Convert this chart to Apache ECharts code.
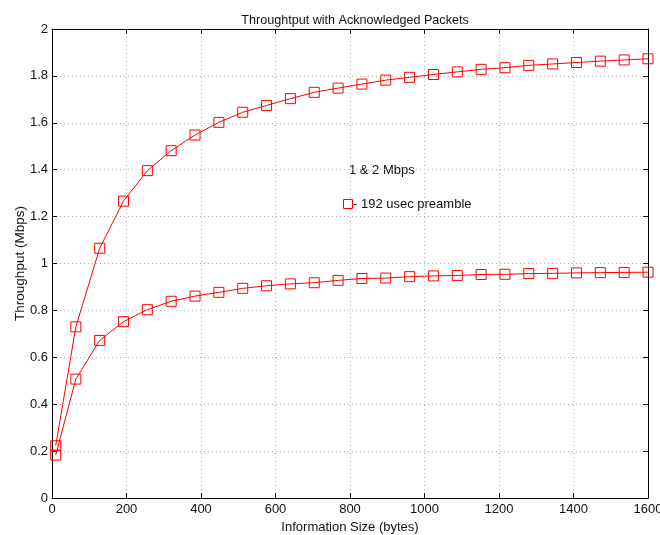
<!DOCTYPE html>
<html>
<head>
<meta charset="utf-8">
<script src="https://cdn.jsdelivr.net/npm/echarts@6/dist/echarts.min.js"></script>
<style>
html,body{margin:0;padding:0;background:#fff;}
#chart{width:660px;height:535px;}
</style>
</head>
<body>
<div id="chart"></div>
<script>
// packet sizes (bytes)
var sizes = [10, 64, 128, 192, 256, 320, 384, 448, 512, 576, 640, 704, 768, 832, 896, 960,
	1024, 1088, 1152, 1216, 1280, 1344, 1408, 1472, 1536, 1600]
// 2 Mbps throughput
var rate2 = [0.223, 0.73, 1.065, 1.266, 1.396, 1.481, 1.548, 1.602, 1.645, 1.674, 1.703, 1.73,
	1.748, 1.765, 1.782, 1.794, 1.806, 1.817, 1.828, 1.835, 1.845, 1.851, 1.857, 1.863, 1.868, 1.873]
// 1 Mbps throughput
var rate1 = [0.183, 0.507, 0.672, 0.752, 0.803, 0.839, 0.861, 0.877, 0.894, 0.905, 0.913, 0.918,
	0.928, 0.936, 0.938, 0.944, 0.947, 0.949, 0.953, 0.954, 0.957, 0.958, 0.96, 0.961, 0.962, 0.963]

function pairs(xs, ys){
	var out = []
	for (var i = 0; i < xs.length; i++) out.push([xs[i], ys[i]])
	return out
}

var font = 'Liberation Sans, Arial, sans-serif'
var gridLine = {show: true, lineStyle: {color: '#b0b0b0', type: [1, 3], width: 1}}

function lineSeries(name, ys){
	return {
		name: name,
		type: 'line',
		data: pairs(sizes, ys),
		symbol: 'rect',
		symbolSize: 10,
		showAllSymbol: true,
		lineStyle: {color: '#ff0000', width: 1},
		itemStyle: {color: 'rgba(0,0,0,0)', borderColor: '#ff0000', borderWidth: 1},
		emphasis: {disabled: true},
		z: 3
	}
}

var option = {
	animation: false,
	title: {
		text: 'Throughtput with Acknowledged Packets',
		left: 350, top: 9, textAlign: 'center',
		textStyle: {fontFamily: font, fontSize: 12.6, fontWeight: 'normal', color: '#111'}
	},
	grid: {left: 52, right: 12, top: 29, bottom: 37, outerBoundsMode: 'none', containLabel: false},
	xAxis: [{
		type: 'value', min: 0, max: 1600, interval: 200,
		name: 'Information Size (bytes)', nameLocation: 'middle', nameGap: 21,
		nameTextStyle: {fontFamily: font, fontSize: 13, color: '#111'},
		axisLine: {onZero: false, lineStyle: {color: '#000', width: 1}},
		axisTick: {inside: true, length: 5, lineStyle: {color: '#000'}},
		axisLabel: {fontFamily: font, fontSize: 13, color: '#111', margin: 5,
			formatter: function(v){ return v + '' }},
		splitLine: gridLine
	}, {
		type: 'value', min: 0, max: 1600, interval: 200, position: 'top',
		axisLine: {onZero: false, lineStyle: {color: '#000', width: 1}},
		axisTick: {inside: true, length: 5, lineStyle: {color: '#000'}},
		axisLabel: {show: false}, splitLine: {show: false}
	}],
	yAxis: [{
		type: 'value', min: 0, max: 2, interval: 0.2,
		name: 'Throughput (Mbps)', nameLocation: 'middle', nameGap: 25, nameMoveOverlap: false,
		nameTextStyle: {fontFamily: font, fontSize: 13.5, color: '#111'},
		axisLine: {show: true, onZero: false, lineStyle: {color: '#000', width: 1}},
		axisTick: {show: true, inside: true, length: 5, lineStyle: {color: '#000'}},
		axisLabel: {fontFamily: font, fontSize: 13, color: '#111', margin: 4,
			formatter: function(v){ return +v.toFixed(1) + '' }},
		splitLine: gridLine
	}, {
		type: 'value', min: 0, max: 2, interval: 0.2, position: 'right',
		axisLine: {show: true, onZero: false, lineStyle: {color: '#000', width: 1}},
		axisTick: {show: true, inside: true, length: 5, lineStyle: {color: '#000'}},
		axisLabel: {show: false}, splitLine: {show: false}
	}],
	graphic: [
		{type: 'text', left: 349, top: 164,
			style: {text: '1 & 2 Mbps', font: '13px ' + font, fill: '#111'}},
		{type: 'rect', shape: {x: 343.5, y: 199.5, width: 9, height: 9},
			style: {fill: 'none', stroke: '#ff0000', lineWidth: 1}},
		{type: 'text', left: 353, top: 198,
			style: {text: '- 192 usec preamble', font: '13px ' + font, fill: '#111'}}
	],
	series: [lineSeries('2 Mbps', rate2), lineSeries('1 Mbps', rate1)]
}

var myChart = echarts.init(document.getElementById('chart'))
myChart.setOption(option)
</script>
</body>
</html>
